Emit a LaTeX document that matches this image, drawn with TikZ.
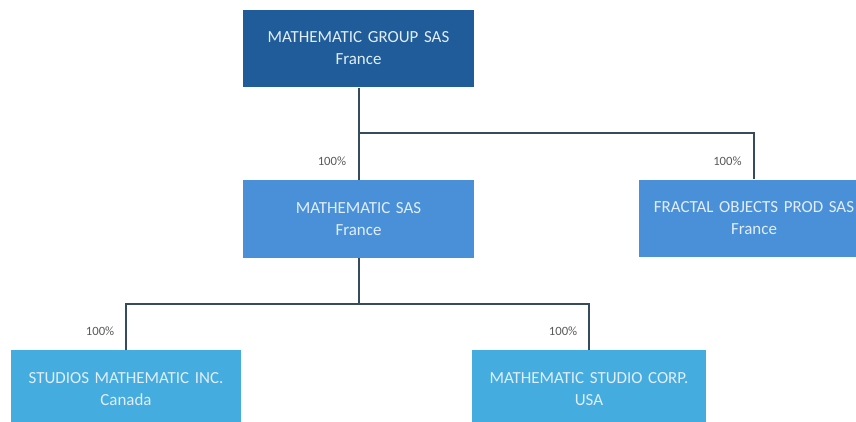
\documentclass[tikz,border=0pt]{standalone}
\usepackage{fontspec}
\setmainfont{Carlito}
\usetikzlibrary{positioning}
\definecolor{holding}{RGB}{31,92,153}
\definecolor{subone}{RGB}{74,144,217}
\definecolor{subtwo}{RGB}{69,172,224}
\definecolor{linkcol}{RGB}{52,76,92}
\definecolor{pctcol}{RGB}{90,90,90}
\definecolor{boxtext}{RGB}{225,238,248}
\begin{document}
\begin{tikzpicture}[x=0.75pt, y=-0.75pt, semithick,
  entity/.style={rectangle, minimum width=173pt, minimum height=58pt, text width=172pt,
    align=center, text=boxtext, font=\fontsize{12.7}{16.5}\selectfont, inner sep=0pt},
  pct/.style={text=pctcol, font=\fontsize{9.5}{11}\selectfont, inner sep=0pt, anchor=base east},
  link/.style={draw=linkcol, line width=1.5pt}]
      \useasboundingbox (0,0) rectangle (856,421);
      \clip (0,0) rectangle (856,421);
      \node [entity, fill=holding] (group) at (358.5,48.5) {MATHEMATIC GROUP SAS\\France};
      \node [entity, fill=subone] (msas) at (358.5,219) {MATHEMATIC SAS\\France};
      \node [entity, fill=subone] (fractal) at (754,218.5) {FRACTAL OBJECTS PROD SAS\\France};
      \node [entity, fill=subtwo] (studios) at (126,389) {STUDIOS MATHEMATIC INC.\\Canada};
      \node [entity, fill=subtwo, minimum width=175.5pt] (corp) at (589,389) {MATHEMATIC STUDIO CORP.\\USA};
      \coordinate (busa) at (0,133);
      \coordinate (busb) at (0,304);
      % links
      \path [link]
      (group.south) -- (msas.north)
      (group.south |- busa) -| (fractal.north)
      (msas.south) -- (msas.south |- busb)
      (studios.north) |- (msas.south |- busb) -| (corp.north)
      ;
      % shares
      \node [pct] at ([xshift=-9pt, yshift=10.5pt]msas.north) {100\%};
      \node [pct] at ([xshift=-9pt, yshift=10.5pt]fractal.north) {100\%};
      \node [pct] at ([xshift=-8.5pt, yshift=11pt]studios.north) {100\%};
      \node [pct] at ([xshift=-8.5pt, yshift=11pt]corp.north) {100\%};
      \end{tikzpicture}
\end{document}
